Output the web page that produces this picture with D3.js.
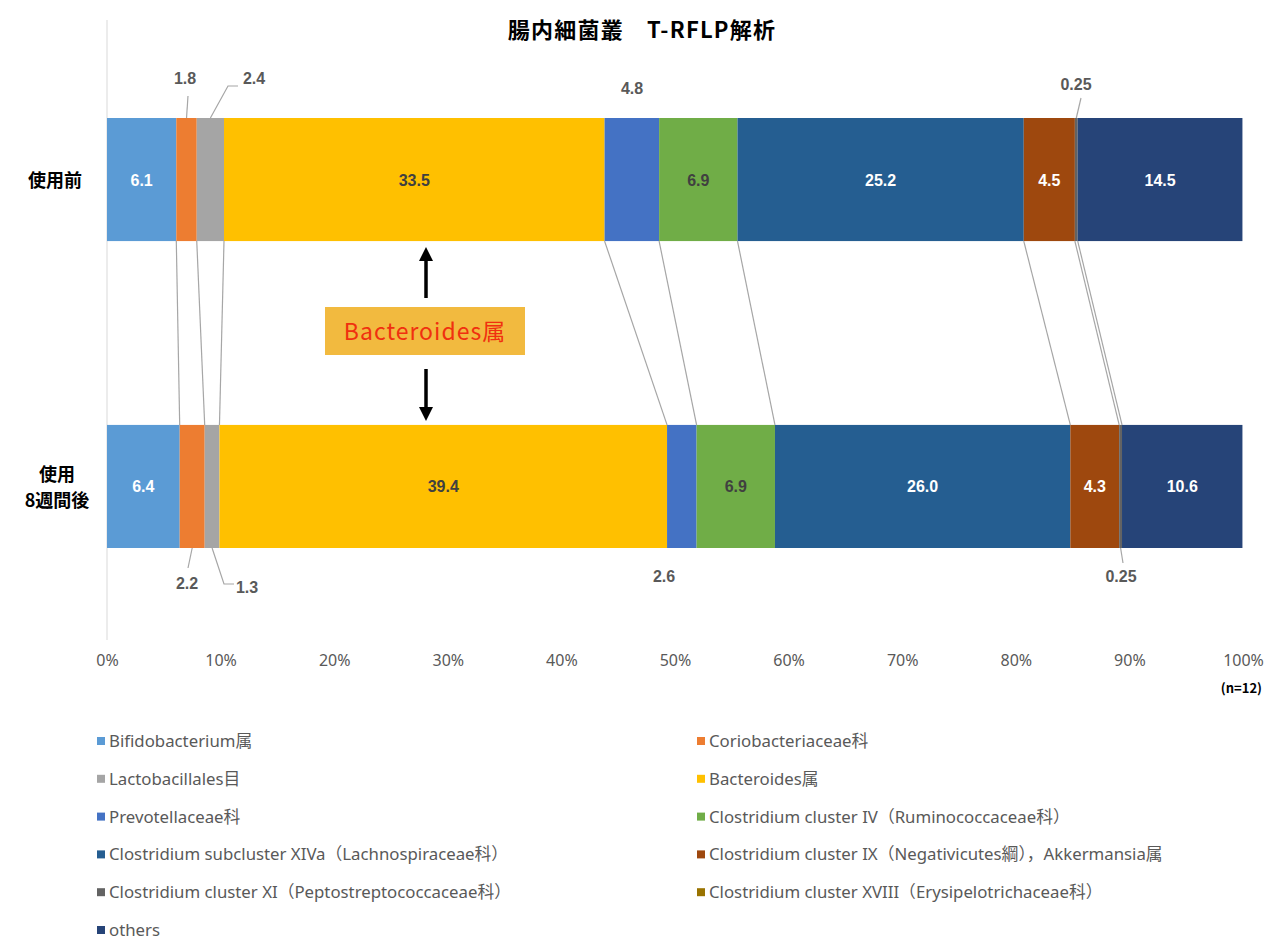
<!DOCTYPE html>
<html><head><meta charset="utf-8">
<script src="https://d3js.org/d3.v7.min.js"></script>
<style>
html,body{margin:0;padding:0;background:#fff;}
svg{display:block;}
</style></head>
<body>
<svg id="chart" width="1268" height="943"></svg>
<script>
const title = "腸内細菌叢　T-RFLP解析";
const groups = ["使用前", "使用\n8週間後"];
const seriesNames = [
  "Bifidobacterium属",
  "Coriobacteriaceae科",
  "Lactobacillales目",
  "Bacteroides属",
  "Prevotellaceae科",
  "Clostridium cluster IV（Ruminococcaceae科）",
  "Clostridium subcluster XIVa（Lachnospiraceae科）",
  "Clostridium cluster IX（Negativicutes綱），Akkermansia属",
  "Clostridium cluster XI（Peptostreptococcaceae科）",
  "Clostridium cluster XVIII（Erysipelotrichaceae科）",
  "others"
];
const colors = ["#5B9BD5","#ED7D31","#A5A5A5","#FFC000","#4472C4","#70AD47","#255E91","#9E480E","#636363","#997300","#264478"];
const beforeValues = [6.1, 1.8, 2.4, 33.5, 4.8, 6.9, 25.2, 4.5, 0.25, 0, 14.5];
const afterValues  = [6.4, 2.2, 1.3, 39.4, 2.6, 6.9, 26.0, 4.3, 0.25, 0, 10.6];
const xTicks = [0,10,20,30,40,50,60,70,80,90,100];
const labelColorInside = ["#fff","#fff","#fff","#404040","#fff","#404040","#fff","#fff","#fff","#fff","#fff"];

const svg = d3.select("#chart");
const font = "'Liberation Sans', Arial, 'Noto Sans CJK JP', sans-serif";
const legendFont = "'Noto Sans', 'Noto Sans CJK JP', sans-serif";
const cjk = "'Noto Sans CJK JP', sans-serif";

const x = d3.scaleLinear().domain([0,100]).range([107,1243]);
const y = d3.scaleBand().domain([0,1]).range([118,548]).paddingInner(0.599).paddingOuter(0);
const data = [beforeValues, afterValues];
const stacks = data.map(vals => {
  let c = 0;
  return vals.map((v,i) => { const s = {i, v, x0:c, x1:c+v}; c += v; return s; });
});

// vertical axis line
svg.append("line").attr("x1",x(0)).attr("x2",x(0)).attr("y1",20).attr("y2",640)
  .attr("stroke","#d9d9d9").attr("stroke-width",1);

// title
svg.append("text").attr("x",642).attr("y",38).attr("text-anchor","middle")
  .attr("font-family",cjk).attr("font-weight","bold")
  .attr("font-size",22).attr("letter-spacing",1.2).attr("fill","#000").text(title);

// series lines (connectors)
const bh = y.bandwidth();
for (let i = 0; i < seriesNames.length - 1; i++) {
  const a = stacks[0][i], b = stacks[1][i];
  if (a.v === 0 && b.v === 0) continue;
  svg.append("line")
    .attr("x1", x(a.x1)).attr("y1", y(0)+bh)
    .attr("x2", x(b.x1)).attr("y2", y(1))
    .attr("stroke","#a6a6a6").attr("stroke-width",1.2);
}

// bars
stacks.forEach((st, r) => {
  svg.append("g").selectAll("rect").data(st.filter(d=>d.v>0)).join("rect")
    .attr("x", d => x(d.x0)).attr("y", y(r))
    .attr("width", d => x(d.x1)-x(d.x0)).attr("height", bh)
    .attr("fill", d => colors[d.i]);
});

// inside labels
const inside = [[0,3,5,6,7,10],[0,3,5,6,7,10]];
stacks.forEach((st, r) => {
  inside[r].forEach(i => {
    const d = st[i];
    svg.append("text").attr("x", (x(d.x0)+x(d.x1))/2).attr("y", y(r)+bh/2+6)
      .attr("text-anchor","middle").attr("font-family",font).attr("font-weight","bold")
      .attr("font-size",16).attr("fill",labelColorInside[i]).text(d.v.toFixed(1));
  });
});

// outside labels with leaders
function outLabel(r, i, lx, ly, pts, txt) {
  const d = stacks[r][i];
  const cx = (x(d.x0)+x(d.x1))/2;
  const edgeY = r === 0 ? y(0) : y(1)+bh;
  if (pts) {
    svg.append("path").attr("d", d3.line()([[cx, edgeY], ...pts]))
      .attr("fill","none").attr("stroke","#a6a6a6").attr("stroke-width",1.2);
  }
  svg.append("text").attr("x", lx).attr("y", ly).attr("text-anchor","middle")
    .attr("font-family",font).attr("font-weight","bold").attr("font-size",16)
    .attr("fill","#595959").text(txt);
}
outLabel(0, 1, 185, 84, [[188, 96]], "1.8");
outLabel(0, 2, 254, 84, [[228, 86],[238, 86]], "2.4");
outLabel(0, 4, 632, 94, null, "4.8");
outLabel(0, 8, 1076, 90, [[1081, 98]], "0.25");
outLabel(1, 1, 187, 589, [[188, 568]], "2.2");
outLabel(1, 2, 247, 593, [[224, 584],[234, 584]], "1.3");
outLabel(1, 4, 664, 582, null, "2.6");
outLabel(1, 8, 1121, 582, [[1123, 563]], "0.25");

// group labels
svg.append("text").attr("x",55).attr("y",y(0)+bh/2+7).attr("text-anchor","middle")
  .attr("font-family",cjk).attr("font-weight","bold")
  .attr("font-size",18).attr("fill","#000").text(groups[0]);
const g2 = groups[1].split("\n");
svg.append("text").attr("x",57).attr("y",y(1)+bh/2-5).attr("text-anchor","middle")
  .attr("font-family",cjk).attr("font-weight","bold")
  .attr("font-size",18).attr("fill","#000").text(g2[0]);
svg.append("text").attr("x",57).attr("y",y(1)+bh/2+21).attr("text-anchor","middle")
  .attr("font-family",cjk).attr("font-weight","bold")
  .attr("font-size",18).attr("fill","#000").text(g2[1]);

// x axis ticks
const axis = d3.axisBottom(x).tickValues(xTicks).tickFormat(d => d + "%").tickSize(0);
const ag = svg.append("g").attr("transform","translate(0,652)").call(axis);
ag.select(".domain").remove();
ag.selectAll("text").attr("font-family",legendFont).attr("font-size",16).attr("fill","#595959");
svg.append("text").attr("x",1262).attr("y",693).attr("text-anchor","end")
  .attr("font-family",cjk).attr("font-weight","bold")
  .attr("font-size",13).attr("fill","#000").text("(n=12)");

// annotation
svg.append("rect").attr("x",325).attr("y",307).attr("width",200).attr("height",48).attr("fill","#F2BA3F");
svg.append("text").attr("x",425).attr("y",340).attr("text-anchor","middle")
  .attr("font-family",cjk).attr("font-size",23).attr("letter-spacing",1)
  .attr("fill","#F0300F").text("Bacteroides属");
const defs = svg.append("defs");
defs.append("marker").attr("id","ah").attr("viewBox","0 0 10 10").attr("refX",5).attr("refY",5)
  .attr("markerWidth",4).attr("markerHeight",4).attr("orient","auto-start-reverse")
  .append("path").attr("d","M0,0L10,5L0,10z").attr("fill","#000");
svg.append("line").attr("x1",426).attr("x2",426).attr("y1",298).attr("y2",254)
  .attr("stroke","#000").attr("stroke-width",3.5).attr("marker-end","url(#ah)");
svg.append("line").attr("x1",426).attr("x2",426).attr("y1",369).attr("y2",414)
  .attr("stroke","#000").attr("stroke-width",3.5).attr("marker-end","url(#ah)");

// legend
const lg = svg.append("g");
seriesNames.forEach((n, i) => {
  const col = i % 2, row = Math.floor(i / 2);
  const lx = col === 0 ? 97 : 697;
  const ly = 741 + row * 37.8;
  lg.append("rect").attr("x", lx).attr("y", ly-4).attr("width",8).attr("height",8).attr("fill",colors[i]);
  lg.append("text").attr("x", lx+12).attr("y", ly+6).attr("font-family",legendFont)
    .attr("font-size",16.8).attr("fill","#595959").text(n);
});
</script>
</body></html>
